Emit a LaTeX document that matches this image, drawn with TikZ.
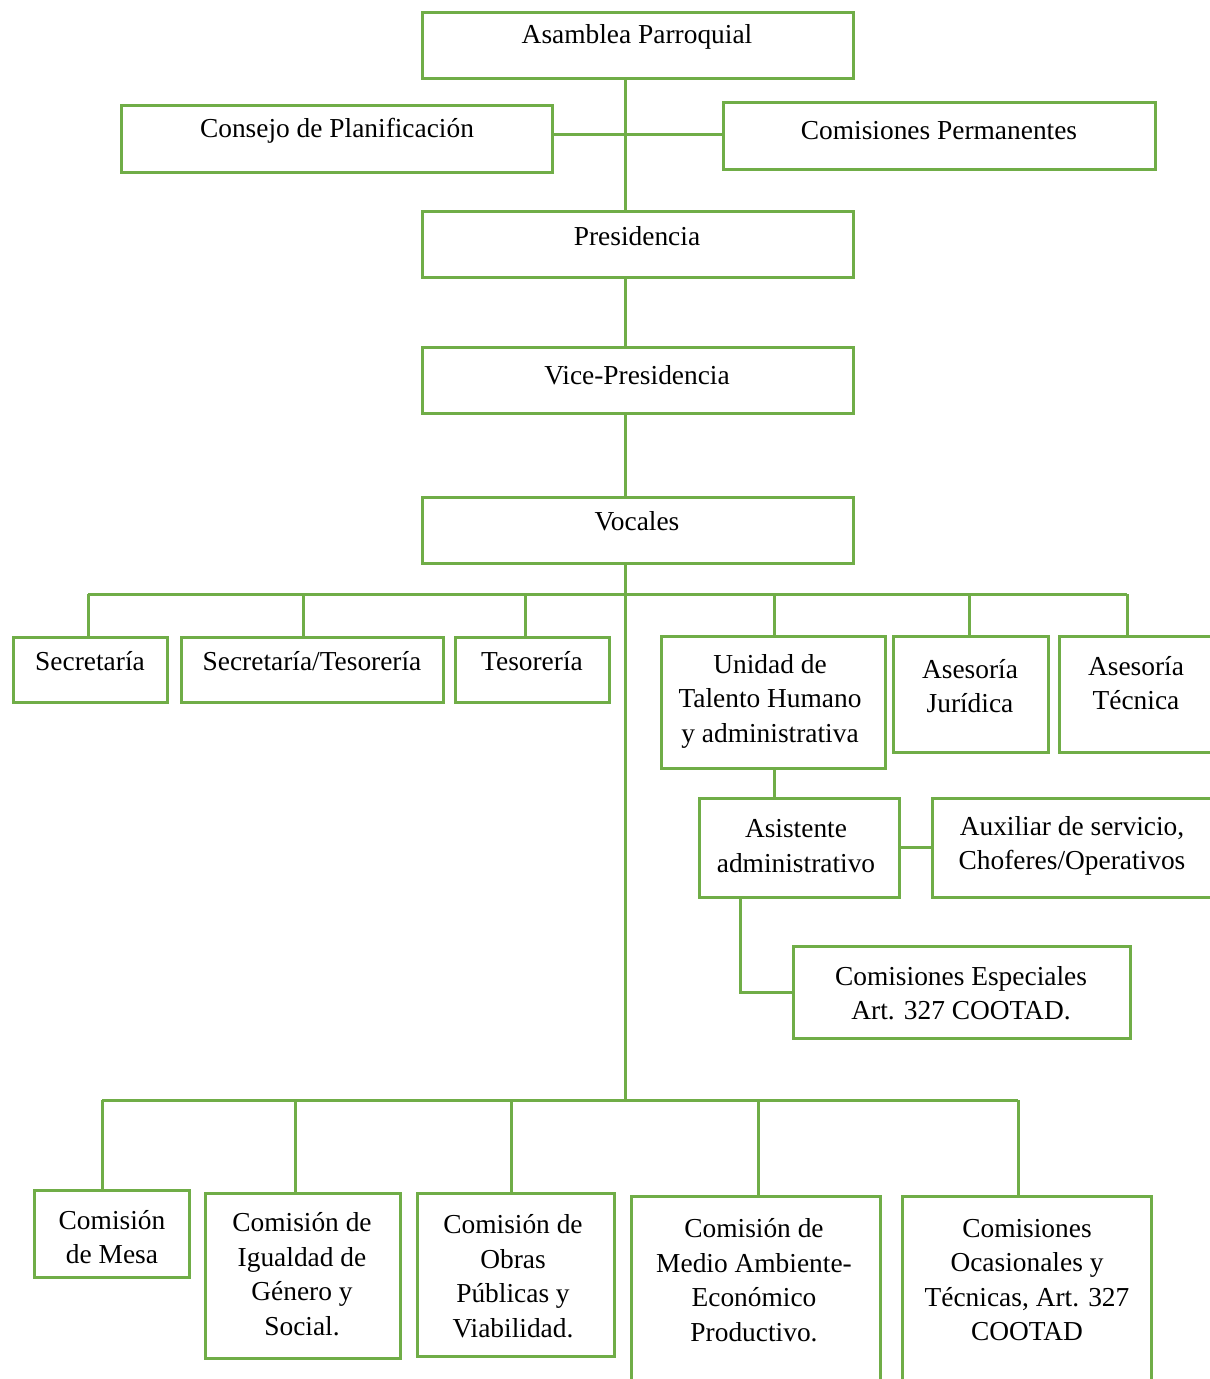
\documentclass[tikz,border=0pt]{standalone}
\usepackage{fontspec}
\setmainfont{Liberation Serif}
\definecolor{og}{HTML}{70AD47}
\begin{document}
\begin{tikzpicture}[x=1pt,y=-1pt,
  box/.style 2 args={draw=og, line width=3pt, minimum width=#1pt, minimum height=#2pt, inner sep=0pt},
  txt/.style={align=center, inner sep=0pt, font=\fontsize{27.4}{34.5}\selectfont},
  conn/.style={draw=og, line width=3pt}]
\useasboundingbox (0,0) rectangle (1210,1379);
\clip (0,0) rectangle (1210,1379);
% boxes
\node[box={431}{66}] (asam) at (637.5,45) {};
\node[box={431}{67}] (consejo) at (336.5,138.5) {};
\node[box={432}{67}] (perm) at (939,135.5) {};
\node[box={431}{66}] (pres) at (637.5,244) {};
\node[box={431}{66}] (vice) at (637.5,380) {};
\node[box={431}{66}] (voc) at (637.5,530) {};
\node[box={154}{65}] (secr) at (90,669.5) {};
\node[box={262}{65}] (sectes) at (312,669.5) {};
\node[box={154}{65}] (tes) at (532,669.5) {};
\node[box={224}{132}] (uni) at (773,702) {};
\node[box={155}{116}] (jur) at (970.5,694) {};
\node[box={156}{116}] (tec) at (1137,694) {};
\node[box={200}{99}] (asis) at (799,847.5) {};
\node[box={283}{99}] (aux) at (1073.5,847.5) {};
\node[box={337}{92}] (esp) at (961.5,992) {};
\node[box={155}{87}] (mesa) at (111.5,1233.5) {};
\node[box={195}{165}] (igu) at (302.5,1275.5) {};
\node[box={197}{163}] (obras) at (515.5,1274.5) {};
\node[box={249}{204}] (medio) at (755.5,1298) {};
\node[box={249}{204}] (ocas) at (1026.5,1298) {};
% texts
\node[txt] (tasam) at (637,37) {Asamblea Parroquial};
\node[txt] (tconsejo) at (337,131) {Consejo de Planificación};
\node[txt] (tperm) at (939,131) {Comisiones Permanentes};
\node[txt] (tpres) at (637,236) {Presidencia};
\node[txt] (tvice) at (637,375) {Vice-Presidencia};
\node[txt] (tvoc) at (637,521) {Vocales};
\node[txt] (tsecr) at (90,661) {Secretaría};
\node[txt] (tsectes) at (312,661) {Secretaría/Tesorería};
\node[txt] (ttes) at (532,661) {Tesorería};
\node[txt] (tuni) at (770,701) {Unidad de\\Talento Humano\\y administrativa};
\node[txt] (tjur) at (970,686) {Asesoría\\Jurídica};
\node[txt] (ttec) at (1136,683) {Asesoría\\Técnica};
\node[txt] (tasis) at (796,846) {Asistente\\administrativo};
\node[txt] (taux) at (1072,846) {Auxiliar de servicio,\\Choferes/Operativos};
\node[txt] (tesp) at (961,993) {Comisiones Especiales\\Art. 327 COOTAD.};
\node[txt] (tmesa) at (112,1237) {Comisión\\de Mesa};
\node[txt] (tigu) at (302,1274) {Comisión de\\Igualdad de\\Género y\\Social.};
\node[txt] (tobras) at (513,1276) {Comisión de\\Obras\\Públicas y\\Viabilidad.};
\node[txt] (tmedio) at (754,1280) {Comisión de\\Medio Ambiente-\\Económico\\Productivo.};
\node[txt] (tocas) at (1027,1280) {Comisiones\\Ocasionales y\\Técnicas, Art. 327\\COOTAD};
% coordinates
\coordinate (trunk) at (625,0);
\coordinate (hy) at (0,134);
\coordinate (tb1) at (88,594);
\coordinate (tb2) at (303,594);
\coordinate (tb3) at (525,594);
\coordinate (tb4) at (774,594);
\coordinate (tb5) at (969,594);
\coordinate (tb6) at (1127,594);
\coordinate (bb1) at (102,1100);
\coordinate (bb2) at (295,1100);
\coordinate (bb3) at (511,1100);
\coordinate (bb4) at (758,1100);
\coordinate (bb5) at (1018,1100);
\coordinate (ae) at (740,0);
% connectors
\draw[conn] (asam.south -| trunk) -- (pres.north -| trunk);
\draw[conn] (consejo.east |- hy) -- (perm.west |- hy);
\draw[conn] (pres.south -| trunk) -- (vice.north -| trunk);
\draw[conn] (vice.south -| trunk) -- (voc.north -| trunk);
\draw[conn] (voc.south -| trunk) -- (trunk |- bb1);
\draw[conn] (tb1) -- (tb6);
\draw[conn] (tb1) -- (tb1 |- secr.north);
\draw[conn] (tb2) -- (tb2 |- sectes.north);
\draw[conn] (tb3) -- (tb3 |- tes.north);
\draw[conn] (tb4) -- (tb4 |- uni.north);
\draw[conn] (tb5) -- (tb5 |- jur.north);
\draw[conn] (tb6) -- (tb6 |- tec.north);
\draw[conn] (uni.south -| tb4) -- (tb4 |- asis.north);
\draw[conn] (asis.east) -- (aux.west);
\draw[conn] (asis.south -| ae) |- (esp.west);
\draw[conn] (bb1) -- (bb5);
\draw[conn] (bb1) -- (bb1 |- mesa.north);
\draw[conn] (bb2) -- (bb2 |- igu.north);
\draw[conn] (bb3) -- (bb3 |- obras.north);
\draw[conn] (bb4) -- (bb4 |- medio.north);
\draw[conn] (bb5) -- (bb5 |- ocas.north);
\end{tikzpicture}
\end{document}
